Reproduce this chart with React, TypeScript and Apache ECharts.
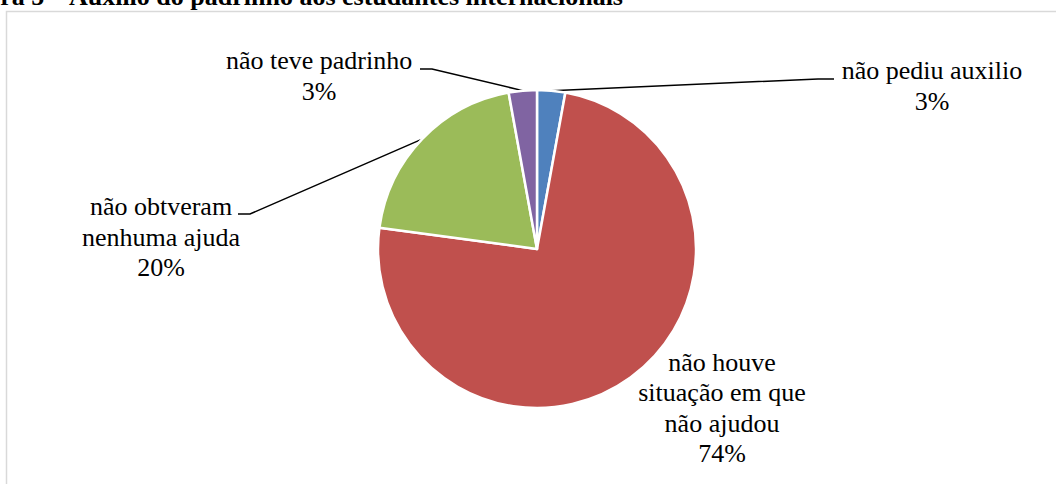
import React, { useEffect, useRef } from "react";
import * as echarts from "echarts";

const categories = [
  "não pediu auxilio",
  "não houve\nsituação em que\nnão ajudou",
  "não obtveram\nnenhuma ajuda",
  "não teve padrinho",
];
const values = [1, 26, 7, 1];
const colors = ["#4F81BD", "#C0504D", "#9BBB59", "#8064A2"];
const titleText = "Figura 5 – Auxílio do padrinho aos estudantes internacionais";

// label anchor positions (centre of each label block) and leader-line bends
const labelPos: number[][] = [
  [932, 86],
  [722, 408],
  [161, 237],
  [319, 76],
];
const leaderBends: (number[][] | null)[] = [
  [[818, 79], [834, 79]],
  null,
  [[250, 214], [238, 214]],
  [[432, 69], [420, 69]],
];

export default function App() {
  const ref = useRef<HTMLDivElement>(null);
  useEffect(() => {
    if (!ref.current) return;
    const chart = echarts.init(ref.current, null, { renderer: "svg" });
    const font = "Liberation Serif";
    chart.setOption({
      animation: false,
      backgroundColor: "#ffffff",
      graphic: [
        {
          type: "rect",
          shape: { x: 6.5, y: 11.5, width: 1200, height: 600 },
          style: { fill: "none", stroke: "#d9d9d9", lineWidth: 1.5 },
          silent: true,
        },
        {
          type: "text",
          x: 623,
          y: -3.8,
          style: {
            text: titleText,
            fontFamily: font,
            fontSize: 26,
            fontWeight: "bold",
            fill: "#000",
            align: "right",
            verticalAlign: "middle",
          },
          silent: true,
        },
      ],
      series: [
        {
          type: "pie",
          center: [537, 249],
          radius: 159,
          startAngle: 90,
          clockwise: true,
          percentPrecision: 0,
          silent: true,
          itemStyle: { borderColor: "#ffffff", borderWidth: 2.5 },
          emphasis: { disabled: true },
          label: {
            show: true,
            position: "outside",
            formatter: "{b}\n{d}%",
            fontFamily: font,
            fontSize: 26,
            lineHeight: 30.5,
            color: "#000",
            align: "center",
          },
          labelLine: {
            show: true,
            length: 20,
            length2: 12,
            lineStyle: { color: "#000", width: 1.5 },
          },
          labelLayout: (params: any) => {
            const i = params.dataIndex;
            const p = labelPos[i];
            const bends = leaderBends[i];
            const res: any = {
              x: p[0],
              y: p[1],
              align: "center",
              verticalAlign: "middle",
            };
            if (bends && params.labelLinePoints) {
              res.labelLinePoints = [params.labelLinePoints[0], bends[0], bends[1]];
            }
            return res;
          },
          data: categories.map((name, i) => ({
            name,
            value: values[i],
            itemStyle: { color: colors[i] },
            labelLine: { show: leaderBends[i] !== null },
          })),
        },
      ],
    });
    return () => chart.dispose();
  }, []);
  return (
    <div
      ref={ref}
      style={{ position: "absolute", left: 0, top: 0, width: 1056, height: 484 }}
    />
  );
}
